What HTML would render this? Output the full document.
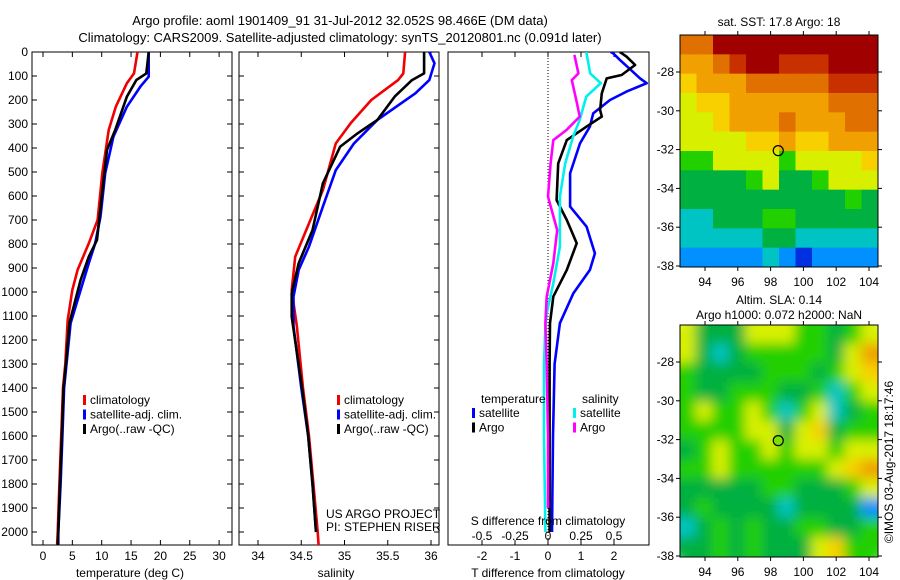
<!DOCTYPE html>
<html><head><meta charset="utf-8">
<style>
html,body{margin:0;padding:0;background:#fff;}
svg{display:block;font-family:"Liberation Sans",sans-serif;}
text{font-size:12px;fill:#000;}
</style></head>
<body>
<svg id="fig" width="900" height="580" viewBox="0 0 900 580">
<g id="titles">
<text x="340" y="25" text-anchor="middle" style="font-size:13px">Argo profile: aoml 1901409_91 31-Jul-2012 32.052S 98.466E (DM data)</text>
<text x="340" y="42" text-anchor="middle" style="font-size:13px">Climatology: CARS2009. Satellite-adjusted climatology: synTS_20120801.nc (0.091d later)</text>
</g>
<defs>
<clipPath id="c1"><rect x="32" y="52" width="200" height="493"/></clipPath>
<clipPath id="c2"><rect x="239" y="52" width="200" height="493"/></clipPath>
<clipPath id="c3"><rect x="448" y="52" width="201" height="493"/></clipPath>
<clipPath id="cm1"><rect x="680" y="35" width="198" height="232"/></clipPath>
<clipPath id="cm2"><rect x="680" y="325" width="198" height="232"/></clipPath>
<filter id="blur" x="-10%" y="-10%" width="120%" height="120%"><feGaussianBlur stdDeviation="6"/></filter>
</defs>
</svg>
<script>
// ---------- data ----------
const depthTicks=[0,100,200,300,400,500,600,700,800,900,1000,1100,1200,1300,1400,1500,1600,1700,1800,1900,2000];
const tempTicks=[0,5,10,15,20,25,30];
const salTicks=[34,34.5,35,35.5,36];
const tdiffTicks=[-2,-1,0,1,2];
const sdiffTicks=[-0.5,-0.25,0,0.25,0.5];
const sdiffTickLabels=["-0.5","-0.25","0","0.25","0.5"];
const lonTicks=[94,96,98,100,102,104];
const latTicks=[-28,-30,-32,-34,-36,-38];

const tClimDepth=[0,89,130,228,325,505,700,797,908,992,1117,1300,1400,1600,1800,2000,2055];
const tClimVal=[16.1,15.5,14.3,12.4,11.2,10.1,9.3,7.8,5.9,5.0,4.2,3.8,3.4,3.1,2.8,2.5,2.4];
const tSatDepth=[0,103,144,228,353,505,686,797,880,992,1130,1300,1400,1600,1800,2000,2055];
const tSatVal=[18.0,18.0,16.6,14.3,12.0,10.6,9.8,8.9,7.8,6.4,4.7,4.0,3.6,3.3,3.0,2.6,2.6];
const tArgoDepth=[0,89,117,186,325,408,603,783,853,950,1130,1300,1400,1600,1800,2000,2055];
const tArgoVal=[18.0,17.6,15.9,14.3,12.3,10.9,10.0,9.2,7.8,6.4,4.5,3.9,3.5,3.2,2.9,2.6,2.5];

const sClimDepth=[0,89,117,200,297,381,575,714,853,992,1144,1400,1600,1800,2000,2055];
const sClimVal=[35.70,35.68,35.62,35.31,35.07,34.90,34.75,34.59,34.43,34.39,34.45,34.52,34.59,34.64,34.69,34.70];
const sSatDepth=[0,47,117,172,283,381,492,644,811,908,1019,1144,1400,1600,1800,2000];
const sSatVal=[35.98,36.04,35.98,35.82,35.38,35.11,34.90,34.75,34.59,34.47,34.41,34.41,34.50,34.58,34.63,34.67];
const sArgoDepth=[0,89,117,186,283,339,394,547,742,880,1005,1103,1400,1600,1800,2000];
const sArgoVal=[35.92,35.92,35.78,35.58,35.38,35.15,34.95,34.75,34.63,34.47,34.39,34.39,34.51,34.58,34.63,34.67];

const dTSatDepth=[0,6,33,110,130,165,200,256,311,381,506,644,728,839,908,1005,1130,1300,1600,2000];
const dTSatVal=[1.9,1.98,2.18,2.79,2.99,2.38,1.88,1.37,1.27,0.97,0.67,0.67,1.17,1.42,1.27,0.77,0.36,0.2,0.15,0.12];
const dTArgoDepth=[0,19,54,96,110,172,242,269,311,367,464,617,700,797,908,1019,1130,1300,1600,2000];
const dTArgoVal=[2.18,2.38,2.64,2.23,1.78,1.63,1.58,1.63,1.17,0.57,0.31,0.26,0.57,0.87,0.57,0.16,0.06,0.05,0.05,0.05];
const dSSatDepth=[0,89,130,186,283,353,464,603,811,964,1089,1144,1300,1600,2000];
const dSSatVal=[0.29,0.32,0.40,0.29,0.24,0.19,0.13,0.09,0.09,0.04,-0.01,-0.02,-0.03,-0.03,-0.02];
const dSArgoDepth=[12,89,117,214,269,325,367,464,603,742,880,1019,1130,1300,1600,1900];
const dSArgoVal=[0.20,0.23,0.18,0.22,0.24,0.14,0.04,0.02,0.0,0.07,0.04,-0.01,-0.02,-0.01,0.0,0.0];

const sstGrid=[
[8,8,10,10,10,10,10,10,10,10,10,10],
[7,7,8,9,10,10,9,9,9,10,10,10],
[6,7,7,7,8,8,8,8,8,9,9,9],
[5,6,6,7,7,7,7,7,7,8,8,8],
[5,5,6,7,7,7,8,7,7,7,8,8],
[5,5,5,5,6,6,7,6,6,7,7,7],
[4,4,5,5,5,5,4,5,5,5,5,6],
[3,3,3,3,4,5,3,3,4,5,5,5],
[3,3,3,3,3,3,3,3,3,3,4,3],
[2,2,3,3,3,4,4,3,3,3,3,3],
[2,2,2,2,2,3,3,2,2,2,2,2],
[1,1,1,1,1,2,1,0,1,1,1,1]];
const slaGrid=[
[5,3,3,3,5,5,5,4,4,3,4,5],
[5,3,2,3,4,4,4,4,4,3,5,7],
[4,3,3,3,3,4,4,4,3,4,5,6],
[4,3,3,4,4,4,3,3,4,2,4,5],
[4,5,4,4,5,4,2,4,5,1.5,3,4],
[4,4,4,4,5,5,3,5,6,3,4,4],
[3,4,5,4,4,5,4,5,5,4,5,5],
[4,4,5,4,4,4,4,4,4,5,6,7],
[3,3,3,3,3,4,4,3,3,3,4,5],
[3,4,3,3,3,3,2,3,3,3,3,1],
[2,3,4,3,4,3,3,4,4,3,3,4],
[3,3,4,3,4,3,3,3,5,6,4,4]];
const cmap=["#0030e0","#0090ff","#00c4c4","#00b040","#22d000","#d8f000","#f8d000","#f0a000","#e07000","#c83000","#a00000"];
const argoLon=98.466, argoLat=-32.052;

// ---------- helpers ----------
const NS="http://www.w3.org/2000/svg";
const svg=document.getElementById('fig');
function mk(tag,attrs,parent){const e=document.createElementNS(NS,tag);for(const k in attrs)e.setAttribute(k,attrs[k]);(parent||svg).appendChild(e);return e;}
function txt(x,y,s,anchor,parent,size){const t=mk('text',{x:x,y:y,'text-anchor':anchor||'middle'},parent);if(size)t.style.fontSize=size+'px';t.textContent=s;return t;}
const yD=d=>52+d*0.24;
const xT=v=>43+v*5.87;
const xS=v=>258+(v-34)*86.5;
const xDT=v=>548+v*33;
const xDS=v=>548+v*132;
const lonX=l=>705+(l-94)*16.4;
const latY1=l=>72+(-28-l)*19.4;
const latY2=l=>362+(-28-l)*19.4;

function panel(x0,w,name){
  const g=mk('g',{});
  
  
  mk('rect',{x:x0,y:52,width:w,height:493,fill:'none',stroke:'#000','stroke-width':1},g);
  return g;
}
function series(g,depths,vals,xf,color,name,clip){
  const pts=depths.map((d,i)=>xf(vals[i]).toFixed(1)+','+yD(d).toFixed(1)).join(' ');
  const p=mk('polyline',{points:pts,fill:'none',stroke:color,'stroke-width':2.6,'stroke-linejoin':'round','clip-path':'url(#'+clip+')'},g);
  
  
}

// ---------- panel 1: temperature ----------
const g1=panel(32,200,'temperature-panel');
depthTicks.forEach(d=>{
  const y=yD(d);
  mk('line',{x1:32,y1:y,x2:37,y2:y,stroke:'#000'},g1);
  mk('line',{x1:227,y1:y,x2:232,y2:y,stroke:'#000'},g1);
  const t=txt(28,y+4,String(d),'end',g1);
  
  
});
tempTicks.forEach(v=>{
  const x=xT(v);
  mk('line',{x1:x,y1:545,x2:x,y2:540,stroke:'#000'},g1);
  mk('line',{x1:x,y1:52,x2:x,y2:57,stroke:'#000'},g1);
  const t=txt(x,560,String(v),'middle',g1);
  
  
});
const xl1=txt(130,577,'temperature (deg C)','middle',g1);


series(g1,tClimDepth,tClimVal,xT,'#f00000','temp-climatology-line','c1');
series(g1,tSatDepth,tSatVal,xT,'#0000ff','temp-satellite-line','c1');
series(g1,tArgoDepth,tArgoVal,xT,'#000','temp-argo-line','c1');

function legend(g,x,y,items){
  items.forEach((it,i)=>{
    mk('rect',{x:x,y:y+i*14.5-9,width:3,height:10,fill:it[1]},g);
    const t=txt(x+7,y+i*14.5,it[0],'start',g);
    
    
  });
}
legend(g1,83,404,[['climatology','#f00000'],['satellite-adj. clim.','#0000ff'],['Argo(..raw -QC)','#000']]);

// ---------- panel 2: salinity ----------
const g2=panel(239,200,'salinity-panel');
depthTicks.forEach(d=>{
  const y=yD(d);
  mk('line',{x1:239,y1:y,x2:244,y2:y,stroke:'#000'},g2);
  mk('line',{x1:434,y1:y,x2:439,y2:y,stroke:'#000'},g2);
});
salTicks.forEach(v=>{
  const x=xS(v);
  mk('line',{x1:x,y1:545,x2:x,y2:540,stroke:'#000'},g2);
  mk('line',{x1:x,y1:52,x2:x,y2:57,stroke:'#000'},g2);
  const t=txt(x,560,String(v),'middle',g2);
  
  
});
const xl2=txt(336,577,'salinity','middle',g2);


series(g2,sClimDepth,sClimVal,xS,'#f00000','sal-climatology-line','c2');
series(g2,sSatDepth,sSatVal,xS,'#0000ff','sal-satellite-line','c2');
series(g2,sArgoDepth,sArgoVal,xS,'#000','sal-argo-line','c2');
legend(g2,337,404,[['climatology','#f00000'],['satellite-adj. clim.','#0000ff'],['Argo(..raw -QC)','#000']]);
const pr1=txt(326,518,'US ARGO PROJECT','start',g2);


const pr2=txt(326,531,'PI: STEPHEN RISER','start',g2);



// ---------- panel 3: differences ----------
const g3=panel(448,201,'difference-panel');
mk('line',{x1:548,y1:52,x2:548,y2:545,stroke:'#000','stroke-dasharray':'1,2'},g3);
tdiffTicks.forEach(v=>{
  const x=xDT(v);
  mk('line',{x1:x,y1:545,x2:x,y2:540,stroke:'#000'},g3);
  mk('line',{x1:x,y1:52,x2:x,y2:57,stroke:'#000'},g3);
  const t=txt(x,560,String(v),'middle',g3);
  
  
});
series(g3,dTSatDepth,dTSatVal,xDT,'#0000ff','tdiff-satellite-line','c3');
series(g3,dTArgoDepth,dTArgoVal,xDT,'#000','tdiff-argo-line','c3');
series(g3,dSSatDepth,dSSatVal,xDS,'#00f0f0','sdiff-satellite-line','c3');
series(g3,dSArgoDepth,dSArgoVal,xDS,'#ff00ff','sdiff-argo-line','c3');
const lt=txt(481,403,'temperature','start',g3);


const ls=txt(582,403,'salinity','start',g3);


legend(g3,472,417,[['satellite','#0000ff'],['Argo','#000']]);
legend(g3,573,417,[['satellite','#00f0f0'],['Argo','#ff00ff']]);
const st=txt(548,525,'S difference from climatology','middle',g3);


sdiffTicks.forEach((v,i)=>{
  const t=txt(xDS(v),540,sdiffTickLabels[i],'middle',g3);
  
  
});
const tt=txt(548,577,'T difference from climatology','middle',g3);



// ---------- maps ----------
function map(top,grid,latY,name,blur,title,titleY,markFill){
  const g=mk('g',{});
  
  
  const cg=mk('g',{'clip-path':'url(#'+(top<100?'cm1':'cm2')+')'},g);
  const inner=mk('g',blur?{filter:'url(#blur)'}:{},cg);
  const cw=198/grid[0].length, ch=232/grid.length;
  grid.forEach((row,r)=>row.forEach((v,c)=>{
    const cell=mk('rect',{x:680+c*cw-(blur?1:0),y:top+r*ch-(blur?1:0),width:cw+(blur?2:0.6),height:ch+(blur?2:0.6),fill:cmap[Math.round(v)]},inner);
    
    
  }));
  if(blur){ // pad edges so blur doesn't fade
    grid.forEach((row,r)=>{
      mk('rect',{x:660,y:top+r*ch,width:20,height:ch,fill:cmap[Math.round(row[0])]},inner);
      mk('rect',{x:878,y:top+r*ch,width:20,height:ch,fill:cmap[Math.round(row[row.length-1])]},inner);
    });
    grid[0].forEach((v,c)=>mk('rect',{x:680+c*cw,y:top-20,width:cw,height:20,fill:cmap[Math.round(v)]},inner));
    grid[grid.length-1].forEach((v,c)=>mk('rect',{x:680+c*cw,y:top+232,width:cw,height:20,fill:cmap[Math.round(v)]},inner));
  }
  mk('rect',{x:680,y:top,width:198,height:232,fill:'none',stroke:'#000'},g);
  lonTicks.forEach(l=>{
    const x=lonX(l);
    mk('line',{x1:x,y1:top,x2:x,y2:top-4,stroke:'#000'},g);
    mk('line',{x1:x,y1:top+232,x2:x,y2:top+236,stroke:'#000'},g);
    const t=txt(x,top+251,String(l),'middle',g);
    
    
  });
  latTicks.forEach(l=>{
    const y=latY(l);
    mk('line',{x1:680,y1:y,x2:676,y2:y,stroke:'#000'},g);
    mk('line',{x1:878,y1:y,x2:882,y2:y,stroke:'#000'},g);
    const t=txt(674,y+4,String(l),'end',g);
    
    
  });
  title.forEach((s,i)=>{
    const t=txt(779,titleY[i],s,'middle',g);
    
    
  });
  const m=mk('circle',{cx:lonX(argoLon),cy:latY(argoLat),r:5,fill:markFill,stroke:'#000','stroke-width':1.2},g);
  
  
}
map(35,sstGrid,latY1,'sst-map',false,['sat. SST: 17.8  Argo: 18'],[26],'none');
map(325,slaGrid,latY2,'sla-map',true,['Altim. SLA: 0.14','Argo h1000: 0.072 h2000: NaN'],[304,319],'#7ce000');
const cr=txt(0,0,'\u00a9IMOS 03-Aug-2017 18:17:46','middle');
cr.setAttribute('transform','translate(893,462) rotate(-90)');


</script>
</body></html>
